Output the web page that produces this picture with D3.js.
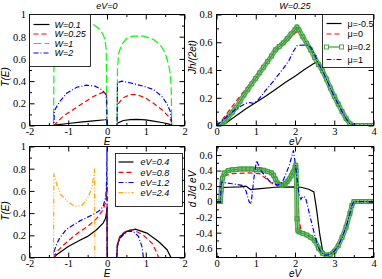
<!DOCTYPE html>
<html>
<head>
<meta charset="utf-8">
<script src="https://cdn.jsdelivr.net/npm/d3@7"></script>
<style>
  body { margin: 0; background: #fff; }
  svg { display: block; }
  .tick text { font-family: "Liberation Serif", "Times New Roman", serif; font-size: 10.5px; fill: #000; }
  .lab { font-family: "Liberation Sans", Arial, sans-serif; font-style: italic; font-size: 10px; fill: #000; }
  .leg { font-family: "Liberation Sans", Arial, sans-serif; font-size: 9px; fill: #000; }
</style>
</head>
<body>
<svg id="fig" width="382" height="279"></svg>
<script>
// ---- tick labels ----
const eTicks = [-2, -1, 0, 1, 2];
const evTicks = [0, 1, 2, 3, 4];
const tTicks = [0, 0.2, 0.4, 0.6, 0.8, 1];
const jTicks = [0, 0.2, 0.4, 0.6, 0.8];
const dTicks = [-0.6, -0.4, -0.2, 0, 0.2, 0.4, 0.6];

// ---- panel a : T(E), eV=0 ----
const wNames = ["W=0.1", "W=0.25", "W=1", "W=2"];
const tW01 = [[-2,0],[-1.37,0],[-1.36,0.003],[-1.0,0.018],[-0.69,0.03],[-0.35,0.042],[-0.05,0.052],[-0.01,0.054],[0,0],[0.26,0],[0.27,0.02],[0.42,0.045],[0.6,0.053],[0.77,0.055],[1.0,0.05],[1.2,0.04],[1.45,0.025],[1.6,0.012],[1.67,0],[2,0]];
const tW025 = [[-2,0],[-1.37,0],[-1.3,0.025],[-1.13,0.084],[-0.87,0.144],[-0.61,0.204],[-0.35,0.262],[-0.14,0.294],[-0.05,0.303],[-0.02,0.29],[0,0],[0.26,0],[0.27,0.16],[0.3,0.2],[0.42,0.25],[0.59,0.278],[0.77,0.278],[0.98,0.25],[1.2,0.2],[1.41,0.145],[1.58,0.084],[1.66,0.04],[1.67,0],[2,0]];
const tW1 = [[-2,0],[-1.38,0],[-1.37,0.5],[-1.36,0.8],[-1.33,0.9],[-1.25,0.94],[-1.1,0.955],[-0.9,0.955],[-0.7,0.945],[-0.5,0.93],[-0.35,0.91],[-0.2,0.87],[-0.1,0.82],[-0.05,0.77],[-0.02,0.68],[0,0],[0.26,0],[0.27,0.5],[0.3,0.65],[0.38,0.73],[0.51,0.785],[0.68,0.805],[0.94,0.805],[1.2,0.775],[1.37,0.73],[1.5,0.655],[1.59,0.55],[1.64,0.45],[1.66,0.3],[1.67,0],[2,0]];
const tW2 = [[-2,0],[-1.37,0],[-1.36,0.13],[-1.3,0.17],[-1.21,0.22],[-1.04,0.29],[-0.78,0.345],[-0.53,0.363],[-0.31,0.354],[-0.14,0.324],[-0.05,0.29],[-0.01,0.27],[0,0],[0.26,0],[0.27,0.385],[0.38,0.4],[0.59,0.385],[0.94,0.354],[1.2,0.324],[1.41,0.264],[1.54,0.2],[1.63,0.13],[1.66,0.06],[1.67,0],[2,0]];

// ---- panel b : current, W=0.25 ----
const muNames = ["\u03bc=-0.5", "\u03bc=0", "\u03bc=0.2", "\u03bc=1"];
const jMuM05 = [[0,0],[0.1,0.003],[0.25,0.02],[0.5,0.07],[0.75,0.12],[1.0,0.165],[1.25,0.21],[1.5,0.26],[1.75,0.31],[2.0,0.355],[2.25,0.405],[2.5,0.45],[2.57,0.462],[2.6,0.44],[2.7,0.395],[2.8,0.335],[2.9,0.27],[3.0,0.21],[3.1,0.155],[3.2,0.1],[3.3,0.05],[3.4,0.012],[3.5,0],[4,0]];
const jMu0 = [[0,0],[0.05,0.005],[0.25,0.08],[0.5,0.175],[0.85,0.3],[1.2,0.43],[1.5,0.535],[1.7,0.585],[1.95,0.65],[2.03,0.675],[2.1,0.665],[2.2,0.635],[2.3,0.59],[2.4,0.545],[2.5,0.49],[2.6,0.44],[2.7,0.395],[2.8,0.335],[2.9,0.27],[3.0,0.21],[3.1,0.155],[3.2,0.1],[3.3,0.05],[3.4,0.012],[3.5,0],[4,0]];
const jMu02 = [[0,0],[0.1,0.005],[0.2,0.025],[0.3,0.06],[0.4,0.095],[0.5,0.13],[0.6,0.175],[0.7,0.22],[0.8,0.26],[0.9,0.3],[1.0,0.34],[1.1,0.38],[1.2,0.42],[1.3,0.46],[1.4,0.5],[1.5,0.545],[1.6,0.57],[1.7,0.595],[1.8,0.625],[1.9,0.66],[2.0,0.69],[2.05,0.71],[2.1,0.69],[2.2,0.64],[2.3,0.59],[2.4,0.545],[2.5,0.49],[2.6,0.44],[2.7,0.395],[2.8,0.335],[2.9,0.27],[3.0,0.21],[3.1,0.155],[3.2,0.1],[3.3,0.05],[3.4,0.012],[3.5,0],[3.6,0],[3.7,0],[3.8,0],[3.9,0],[4.0,0]];
const jMu1 = [[0,0],[0.25,0.06],[0.5,0.12],[0.75,0.16],[0.85,0.165],[0.95,0.16],[1.05,0.18],[1.2,0.235],[1.45,0.32],[1.7,0.41],[1.85,0.47],[1.95,0.53],[2.05,0.575],[2.2,0.58],[2.3,0.58],[2.4,0.565],[2.5,0.51],[2.6,0.445],[2.7,0.395],[2.8,0.335],[2.9,0.27],[3.0,0.21],[3.1,0.155],[3.2,0.1],[3.3,0.05],[3.4,0.012],[3.5,0],[4,0]];

// ---- panel c : T(E) at finite bias ----
const evNames = ["eV=0.4", "eV=0.8", "eV=1.2", "eV=2.4"];
const tEv04 = [[-2,0],[-1.37,0],[-1.3,0.025],[-1.0,0.1],[-0.7,0.155],[-0.5,0.19],[-0.27,0.25],[-0.1,0.31],[-0.04,0.35],[-0.01,0.41],[0,0.445],[0.005,0],[0.25,0],[0.27,0.12],[0.34,0.19],[0.51,0.235],[0.73,0.255],[1.03,0.22],[1.33,0.144],[1.55,0.07],[1.65,0],[2,0]];
const tEv08 = [[-2,0],[-1.37,0],[-1.3,0.05],[-1.13,0.11],[-0.9,0.18],[-0.7,0.235],[-0.5,0.28],[-0.27,0.35],[-0.1,0.43],[-0.03,0.5],[-0.01,0.58],[0,0.68],[0.005,0],[0.25,0],[0.27,0.13],[0.34,0.2],[0.51,0.245],[0.68,0.25],[0.94,0.2],[1.16,0.13],[1.29,0.04],[1.33,0],[2,0]];
const tEv12 = [[-2,0],[-1.37,0],[-1.36,0.06],[-1.3,0.12],[-1.23,0.17],[-1.06,0.25],[-0.7,0.33],[-0.4,0.38],[-0.2,0.42],[-0.1,0.46],[-0.03,0.55],[-0.01,0.7],[0,1.0],[0.005,0],[0.25,0],[0.27,0.1],[0.34,0.175],[0.51,0.235],[0.68,0.235],[0.81,0.19],[0.9,0.1],[0.94,0],[2,0]];
const tEv24 = [[-2,0],[-1.38,0],[-1.37,0.76],[-1.3,0.66],[-1.2,0.57],[-1.0,0.5],[-0.83,0.46],[-0.65,0.47],[-0.5,0.53],[-0.4,0.62],[-0.34,0.74],[-0.32,0.8],[-0.315,0],[2,0]];

// ---- panel d : dJ/deV ----
const dMuM05 = [[0,0],[0.1,0],[0.11,0.18],[0.3,0.185],[0.6,0.19],[0.75,0.2],[0.87,0.155],[1.05,0.165],[1.5,0.185],[2.0,0.19],[2.15,0.185],[2.35,0.16],[2.48,0.125],[2.55,-0.1],[2.63,-0.42],[2.7,-0.62],[2.76,-0.69],[2.8,-0.69],[2.9,-0.68],[3.0,-0.64],[3.1,-0.57],[3.2,-0.46],[3.3,-0.33],[3.4,-0.15],[3.45,-0.05],[3.5,0],[4,0]];
const dMu0 = [[0,0],[0.1,0],[0.11,0.32],[0.4,0.36],[0.8,0.37],[1.1,0.36],[1.25,0.3],[1.4,0.24],[1.55,0.2],[1.7,0.21],[1.85,0.29],[1.95,0.4],[2.0,0.45],[2.05,0.2],[2.1,-0.24],[2.15,-0.35],[2.2,-0.4],[2.3,-0.43],[2.4,-0.46],[2.5,-0.5],[2.6,-0.6],[2.7,-0.665],[2.8,-0.69],[2.9,-0.68],[3.0,-0.64],[3.1,-0.57],[3.2,-0.46],[3.3,-0.33],[3.4,-0.15],[3.45,-0.05],[3.5,0],[4,0]];
const dMu02 = [[0,0],[0.05,0],[0.1,0],[0.12,0.15],[0.15,0.3],[0.2,0.37],[0.3,0.4],[0.4,0.41],[0.5,0.415],[0.6,0.42],[0.7,0.42],[0.8,0.42],[0.9,0.42],[1.0,0.415],[1.1,0.41],[1.2,0.405],[1.3,0.39],[1.4,0.37],[1.45,0.34],[1.5,0.29],[1.55,0.24],[1.6,0.22],[1.65,0.21],[1.7,0.215],[1.75,0.23],[1.8,0.255],[1.85,0.29],[1.9,0.33],[1.95,0.38],[2.0,0.44],[2.02,0.47],[2.03,0.4],[2.04,0.2],[2.05,-0.22],[2.07,-0.37],[2.1,-0.39],[2.2,-0.41],[2.3,-0.43],[2.4,-0.46],[2.5,-0.5],[2.6,-0.6],[2.7,-0.665],[2.8,-0.69],[2.9,-0.68],[3.0,-0.64],[3.1,-0.57],[3.2,-0.46],[3.3,-0.33],[3.4,-0.15],[3.45,-0.05],[3.5,0],[3.6,0],[3.7,0],[3.8,0],[3.9,0],[4.0,0]];
const dMu1 = [[0,0],[0.1,0],[0.12,0.25],[0.4,0.23],[0.65,0.21],[0.75,0.14],[0.83,0.0],[0.88,-0.03],[0.96,0.33],[1.02,0.53],[1.13,0.4],[1.34,0.27],[1.56,0.21],[1.68,0.25],[1.85,0.46],[1.96,0.66],[2.03,0.4],[2.1,0.1],[2.15,0.03],[2.2,0.07],[2.27,0.05],[2.35,-0.12],[2.45,-0.33],[2.55,-0.52],[2.65,-0.65],[2.75,-0.69],[2.8,-0.69],[2.9,-0.68],[3.0,-0.64],[3.1,-0.57],[3.2,-0.46],[3.3,-0.33],[3.4,-0.15],[3.45,-0.05],[3.5,0],[4,0]];

// line styles (xmgrace-like)
const BLACK = {color: "#000", dash: null};
const RED = {color: "#ff0000", dash: "5,3"};
const LIME = {color: "#00ff00", dash: "8,3"};
const BLUE = {color: "#0000ff", dash: "5,2,1,2"};
const ORANGE = {color: "#ffa500", dash: "5,2,1,2,1,2"};
const GREENSQ = {color: "#3a9d3a", dash: null, marker: true};

const svg = d3.select("#fig");

function drawPanel(p, idx) {
  const x = d3.scaleLinear().domain(p.xd).range([p.left, p.right]);
  const y = d3.scaleLinear().domain(p.yd).range([p.bottom, p.top]);
  const g = svg.append("g");

  svg.append("clipPath").attr("id", "clip" + idx)
    .append("rect")
    .attr("x", p.left).attr("y", p.top)
    .attr("width", p.right - p.left).attr("height", p.bottom - p.top);

  const line = d3.line().x(d => x(d[0])).y(d => y(d[1]));
  const plot = g.append("g").attr("clip-path", `url(#clip${idx})`);
  p.series.forEach(s => {
    if (s.style.marker) {
      // dense symbols in the original merge into a band
      plot.append("path").attr("d", line(s.data)).attr("fill", "none")
        .attr("stroke", s.style.color).attr("stroke-width", 5)
        .attr("stroke-linejoin", "round").attr("opacity", 0.85);
      plot.append("path").attr("d", line(s.data)).attr("fill", "none")
        .attr("stroke", "#9fd89a").attr("stroke-width", 2.6)
        .attr("stroke-linejoin", "round");
      plot.selectAll(null).data(s.data).join("rect")
        .attr("x", d => x(d[0]) - 2).attr("y", d => y(d[1]) - 2)
        .attr("width", 4).attr("height", 4)
        .attr("fill", "none")
        .attr("stroke", s.style.color)
        .attr("stroke-width", 0.8);
    }
    plot.append("path")
      .attr("d", line(s.data))
      .attr("fill", "none")
      .attr("stroke", s.style.color)
      .attr("stroke-width", 1.2)
      .attr("stroke-dasharray", s.style.dash);
  });

  // ticks, inward on all four sides
  const minorX = d3.range(p.xd[0], p.xd[1] + 1e-9, 0.5).filter(v => !p.xt.some(t => Math.abs(t - v) < 1e-6));
  const minorY = d3.range(Math.ceil(p.yd[0] * 10) / 10, p.yd[1] + 1e-9, 0.1).filter(v => !p.yt.some(t => Math.abs(t - v) < 1e-6));
  const fmt = d => String(+d.toFixed(2));
  const clean = a => a.call(s => s.select(".domain").remove());

  g.append("g").attr("transform", `translate(0,${p.bottom})`)
    .call(d3.axisBottom(x).tickValues(p.xt).tickSize(-5).tickPadding(2.5).tickFormat(fmt)).call(clean);
  g.append("g").attr("transform", `translate(0,${p.bottom})`)
    .call(d3.axisBottom(x).tickValues(minorX).tickSize(-2.5).tickFormat("")).call(clean);
  g.append("g").attr("transform", `translate(0,${p.top})`)
    .call(d3.axisTop(x).tickValues(p.xt).tickSize(-5).tickFormat("")).call(clean);
  g.append("g").attr("transform", `translate(0,${p.top})`)
    .call(d3.axisTop(x).tickValues(minorX).tickSize(-2.5).tickFormat("")).call(clean);
  g.append("g").attr("transform", `translate(${p.left},0)`)
    .call(d3.axisLeft(y).tickValues(p.yt).tickSize(-5).tickPadding(p.ypad).tickFormat(fmt)).call(clean);
  g.append("g").attr("transform", `translate(${p.left},0)`)
    .call(d3.axisLeft(y).tickValues(minorY).tickSize(-2.5).tickFormat("")).call(clean);
  g.append("g").attr("transform", `translate(${p.right},0)`)
    .call(d3.axisRight(y).tickValues(p.yt).tickSize(-5).tickFormat("")).call(clean);
  g.append("g").attr("transform", `translate(${p.right},0)`)
    .call(d3.axisRight(y).tickValues(minorY).tickSize(-2.5).tickFormat("")).call(clean);

  g.append("rect")
    .attr("x", p.left).attr("y", p.top)
    .attr("width", p.right - p.left).attr("height", p.bottom - p.top)
    .attr("fill", "none").attr("stroke", "#000").attr("stroke-width", 1);

  // axis labels
  const cx = (p.left + p.right) / 2;
  g.append("text").attr("class", "lab")
    .attr("x", cx).attr("y", p.bottom + 19.5)
    .attr("text-anchor", "middle").text(p.xlabel);
  g.append("text").attr("class", "lab")
    .attr("transform", `translate(${p.ylx},${p.yly}) rotate(-90)`)
    .attr("text-anchor", "middle").text(p.ylabel);
  if (p.title) {
    g.append("text").attr("class", "lab").style("font-size", "9px")
      .attr("x", cx).attr("y", 8.5)
      .attr("text-anchor", "middle").text(p.title);
  }

  // legend
  const L = p.legend;
  if (!L) return;
  const lg = g.append("g");
  lg.append("rect")
    .attr("x", L.x).attr("y", L.y).attr("width", L.w).attr("height", L.h)
    .attr("fill", "#fff").attr("stroke", "#000").attr("stroke-width", 0.8);
  p.series.forEach((s, i) => {
    const ly = L.rows[i];
    lg.append("line")
      .attr("x1", L.x + L.l0).attr("x2", L.x + L.l1)
      .attr("y1", ly).attr("y2", ly)
      .attr("stroke", s.style.color).attr("stroke-width", 1.2)
      .attr("stroke-dasharray", s.style.dash);
    if (s.style.marker) {
      [L.x + L.l0, L.x + L.l1].forEach(mx => {
        lg.append("rect").attr("x", mx - 2).attr("y", ly - 2)
          .attr("width", 4).attr("height", 4)
          .attr("fill", "#fff").attr("stroke", s.style.color).attr("stroke-width", 0.9);
      });
    }
    lg.append("text").attr("class", "leg")
      .style("font-style", L.italic ? "italic" : "normal")
      .attr("x", L.x + L.tx).attr("y", ly + 3.2)
      .text(s.name);
  });
}

const panels = [
  {
    left: 29.5, right: 184.5, top: 14.5, bottom: 125.5,
    xd: [-2, 2], yd: [0, 1], xt: eTicks, yt: tTicks, ypad: 3.5,
    xlabel: "E", ylabel: "T(E)", ylx: 8.5, yly: 77, title: "eV=0",
    series: [
      {name: wNames[0], data: tW01, style: BLACK},
      {name: wNames[1], data: tW025, style: RED},
      {name: wNames[2], data: tW1, style: LIME},
      {name: wNames[3], data: tW2, style: BLUE}
    ],
    legend: {x: 29.5, y: 14.5, w: 61, h: 52, l0: 4, l1: 20, tx: 25, italic: true, rows: [24.5, 34, 43.5, 53]}
  },
  {
    left: 216.5, right: 373.5, top: 14.5, bottom: 125.5,
    xd: [0, 4], yd: [0, 0.8], xt: evTicks, yt: jTicks, ypad: 4,
    xlabel: "eV", ylabel: "Jh/(2et)", ylx: 195.5, yly: 57, title: "W=0.25",
    series: [
      {name: muNames[0], data: jMuM05, style: BLACK},
      {name: muNames[1], data: jMu0, style: RED},
      {name: muNames[2], data: jMu02, style: GREENSQ},
      {name: muNames[3], data: jMu1, style: BLUE}
    ],
    legend: {x: 322.5, y: 14.5, w: 51, h: 53, l0: 4, l1: 19, tx: 25, italic: false, rows: [23.5, 34, 47, 59.5]}
  },
  {
    left: 29.5, right: 184.5, top: 146.5, bottom: 257.5,
    xd: [-2, 2], yd: [0, 1], xt: eTicks, yt: tTicks, ypad: 3.5,
    xlabel: "E", ylabel: "T(E)", ylx: 8.5, yly: 211,
    series: [
      {name: evNames[0], data: tEv04, style: BLACK},
      {name: evNames[1], data: tEv08, style: RED},
      {name: evNames[2], data: tEv12, style: BLUE},
      {name: evNames[3], data: tEv24, style: ORANGE}
    ],
    legend: {x: 115.5, y: 153.5, w: 67, h: 53, l0: 3, l1: 18, tx: 25, italic: true, rows: [162, 172.3, 182.5, 192.7]}
  },
  {
    left: 216.5, right: 373.5, top: 146.5, bottom: 257.5,
    xd: [0, 4], yd: [-0.72, 0.71], xt: evTicks, yt: dTicks, ypad: 4,
    xlabel: "eV", ylabel: "d J/d eV", ylx: 195.5, yly: 189,
    series: [
      {name: muNames[0], data: dMuM05, style: BLACK},
      {name: muNames[1], data: dMu0, style: RED},
      {name: muNames[2], data: dMu02, style: GREENSQ},
      {name: muNames[3], data: dMu1, style: BLUE}
    ],
    legend: null
  }
];

panels.forEach((p, i) => drawPanel(p, i));
</script>
</body>
</html>
